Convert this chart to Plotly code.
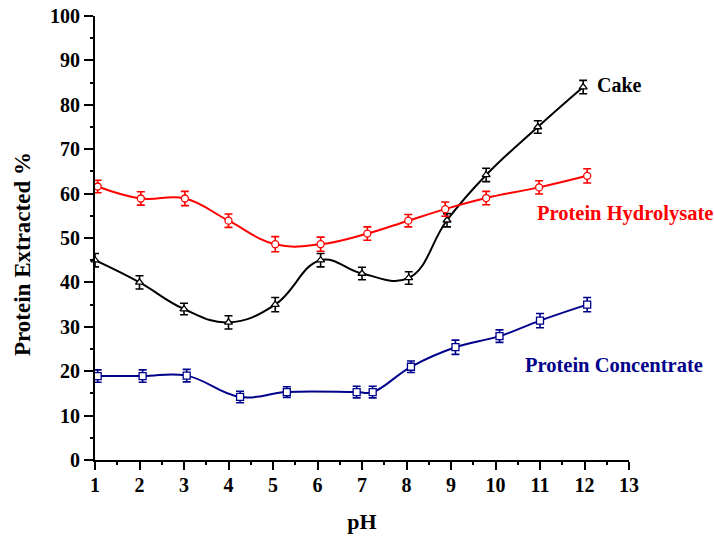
import plotly.graph_objects as go

# Cake
cake_x = [1.0, 2.0, 3.0, 4.0, 5.05, 6.07, 7.0, 8.05, 8.91, 9.79, 10.95, 11.97]
cake_y = [45.0, 40.0, 34.0, 31.0, 35.0, 45.0, 42.0, 41.0, 54.0, 64.2, 75.0, 84.0]
cake_err = [1.5, 1.5, 1.3, 1.5, 1.6, 1.5, 1.4, 1.4, 1.5, 1.5, 1.4, 1.5]

# Protein Hydrolysate
hyd_x = [1.06, 2.03, 3.02, 4.0, 5.05, 6.07, 7.12, 8.04, 8.87, 9.79, 10.98, 12.06]
hyd_y = [61.6, 58.9, 58.9, 53.9, 48.6, 48.6, 51.0, 53.9, 56.5, 59.0, 61.4, 64.0]
hyd_err = [1.4, 1.5, 1.6, 1.5, 1.7, 1.6, 1.5, 1.4, 1.6, 1.5, 1.5, 1.6]

# Protein Concentrate
con_x = [1.06, 2.07, 3.06, 4.26, 5.31, 6.88, 7.24, 8.1, 9.1, 10.09, 11.0, 12.06]
con_y = [18.9, 18.9, 19.0, 14.2, 15.3, 15.3, 15.3, 21.0, 25.4, 27.9, 31.4, 35.0]
con_err = [1.4, 1.4, 1.4, 1.3, 1.2, 1.3, 1.3, 1.3, 1.6, 1.4, 1.6, 1.6]

x_ticks = list(range(1, 14))
y_ticks = list(range(0, 101, 10))

FONT = "Liberation Serif, Times New Roman, serif"

def series(x, y, err, color, symbol):
    return go.Scatter(
        x=x, y=y, mode="lines+markers",
        line=dict(color=color, width=2, shape="spline", smoothing=1.2),
        marker=dict(symbol=symbol, size=7, color="white",
                    line=dict(color=color, width=1.3)),
        error_y=dict(type="data", array=err, visible=True, color=color,
                     thickness=1.6, width=4),
        showlegend=False, cliponaxis=False,
    )

fig = go.Figure()
fig.add_trace(series(cake_x, cake_y, cake_err, "black", "triangle-up"))
fig.add_trace(series(hyd_x, hyd_y, hyd_err, "#ff0000", "circle"))
fig.add_trace(series(con_x, con_y, con_err, "#00008b", "square"))

fig.add_annotation(x=12.23, y=84.5, text="<b>Cake</b>", showarrow=False,
                   xanchor="left", yanchor="middle",
                   font=dict(family=FONT, size=20, color="black"))
fig.add_annotation(x=10.88, y=55.6, text="<b>Protein Hydrolysate</b>", showarrow=False,
                   xanchor="left", yanchor="middle",
                   font=dict(family=FONT, size=20.5, color="#ff0000"))
fig.add_annotation(x=10.61, y=21.4, text="<b>Protein Concentrate</b>", showarrow=False,
                   xanchor="left", yanchor="middle",
                   font=dict(family=FONT, size=20.5, color="#00008b"))
# y-axis title (placed as text so it can sit slightly below centre like the reference)
fig.add_annotation(xref="paper", yref="paper", x=0, y=0.464, xshift=-72,
                   text="<b>Protein Extracted %</b>", textangle=-90, showarrow=False,
                   xanchor="center", yanchor="middle",
                   font=dict(family=FONT, size=23, color="black"))

fig.update_layout(
    width=714, height=537,
    margin=dict(l=95, r=85, t=16, b=77),
    plot_bgcolor="white", paper_bgcolor="white",
    font=dict(family=FONT, size=20, color="black"),
)
fig.update_xaxes(
    range=[1, 13], tickvals=x_ticks, ticktext=[f"<b>{v}</b>" for v in x_ticks],
    automargin=False, ticklabeloverflow="allow",
    showgrid=False, zeroline=False, showline=True, linecolor="black", linewidth=2,
    ticks="outside", ticklen=8, tickwidth=2, tickcolor="black", ticklabelstandoff=-2,
    minor=dict(dtick=0.5, ticks="outside", ticklen=3, tickwidth=2, tickcolor="black"),
    title=dict(text="<b>pH</b>", font=dict(family=FONT, size=22), standoff=19),
    tickfont=dict(family=FONT, size=20),
)
fig.update_yaxes(
    range=[0, 100], tickvals=y_ticks, ticktext=[f"<b>{v}</b>" for v in y_ticks],
    automargin=False, ticklabeloverflow="allow",
    showgrid=False, zeroline=False, showline=True, linecolor="black", linewidth=2,
    ticks="outside", ticklen=9, tickwidth=2, tickcolor="black",
    minor=dict(dtick=5, ticks="outside", ticklen=3, tickwidth=2, tickcolor="black"),
    tickfont=dict(family=FONT, size=20),
)

# remove the page's default 8px body margin so the figure fills the window exactly
fig.write_html("out.html", config={"displayModeBar": False},
               post_script="document.body.style.margin='0';")
